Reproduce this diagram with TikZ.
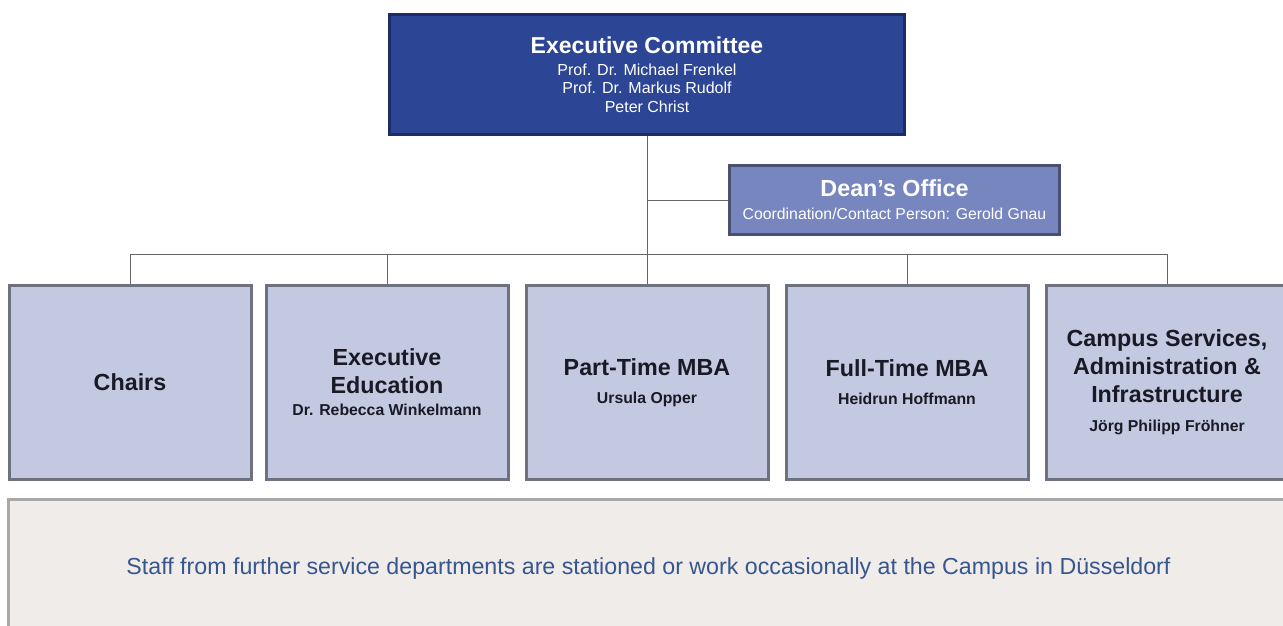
\documentclass[tikz,border=0pt]{standalone}
\usepackage{fontspec}
\setmainfont{Liberation Sans}
\usetikzlibrary{positioning}

\definecolor{ecblue}{RGB}{44,69,149}
\definecolor{ecedge}{RGB}{30,44,100}
\definecolor{deanblue}{RGB}{119,134,191}
\definecolor{deanedge}{RGB}{74,81,112}
\definecolor{unitfill}{RGB}{194,201,224}
\definecolor{unitedge}{RGB}{110,113,128}
\definecolor{stafffill}{RGB}{239,236,234}
\definecolor{staffedge}{RGB}{168,168,168}
\definecolor{stafftext}{RGB}{55,86,142}
\definecolor{unittext}{RGB}{26,26,38}

\newcommand{\bigtxt}{\fontsize{23.3}{28}\selectfont\bfseries}
\newcommand{\whotxt}{\fontsize{15.8}{18.5}\selectfont\bfseries}
\newcommand{\nametxt}{\fontsize{16}{18.5}\selectfont\mdseries}

\begin{document}
\begin{tikzpicture}[x=1pt, y=-1pt,
  ecbox/.style={draw=ecedge, line width=3pt, fill=ecblue, text=white, align=center,
    minimum width=515pt, minimum height=120pt, inner sep=0pt, font=\fontsize{16}{18.5}\selectfont},
  deanbox/.style={draw=deanedge, line width=3pt, fill=deanblue, text=white, align=center,
    minimum width=330pt, minimum height=69pt, inner sep=0pt, font=\fontsize{16}{23}\selectfont},
  unit/.style={draw=unitedge, line width=3pt, fill=unitfill, text=unittext, align=center,
    minimum width=242pt, minimum height=194pt, inner sep=0pt, font=\bigtxt},
  staffbox/.style={draw=staffedge, line width=3pt, fill=stafffill,
    minimum width=1282pt, minimum height=140pt, inner sep=0pt},
  link/.style={draw=black!60, line width=0.9pt}]
\useasboundingbox (0,0) rectangle (1283,626);

% top of the chart
\node [ecbox] (ec) at (647,74.5) {\fontsize{23}{25}\selectfont\bfseries Executive Committee\\[3.5pt]
  \nametxt Prof. Dr. Michael Frenkel\\
  \nametxt Prof. Dr. Markus Rudolf\\
  \nametxt Peter Christ};
\node [deanbox] (dean) at (894.5,200) {\fontsize{23.3}{25}\selectfont\bfseries Dean's Office\\
  \fontsize{15.8}{18}\selectfont\mdseries Coordination/Contact Person: Gerold Gnau};

% units
\node [unit] (chairs) at (130,382.5) {Chairs};
\node [unit] (exed) at (387,382.5) {\bigtxt Executive\\ \bigtxt Education\\[-6pt]
  \whotxt Dr. Rebecca Winkelmann};
\node [unit] (ptmba) at (647,382.5) {\bigtxt Part-Time MBA\\
  \whotxt Ursula Opper};
\node [unit] (ftmba) at (907,382.5) {\bigtxt Full-Time MBA\\
  \whotxt Heidrun Hoffmann};
\node [unit] (campus) at (1167,382.5) {\bigtxt Campus Services,\\ \bigtxt Administration \&\\
  \bigtxt Infrastructure\\[1pt] \whotxt Jörg Philipp Fröhner};

% staff box
\node [staffbox] (staff) at (649,569) {};
\node [text=stafftext, font=\fontsize{23.2}{26}\selectfont, anchor=base] (stafftxt) at (648.5,574)
  {Staff from further service departments are stationed or work occasionally at the Campus in Düsseldorf};

% connectors
\coordinate (bus) at (647,254);
\draw [link] (ec.south) -- (ptmba.north);
\draw [link] (ec.south |- dean.west) -- (dean.west);
\draw [link] (chairs.north |- bus) -- (campus.north |- bus);
\foreach \n in {chairs,exed,ftmba,campus}
\draw [link] (\n.north) -- (\n.north |- bus);
\end{tikzpicture}
\end{document}
